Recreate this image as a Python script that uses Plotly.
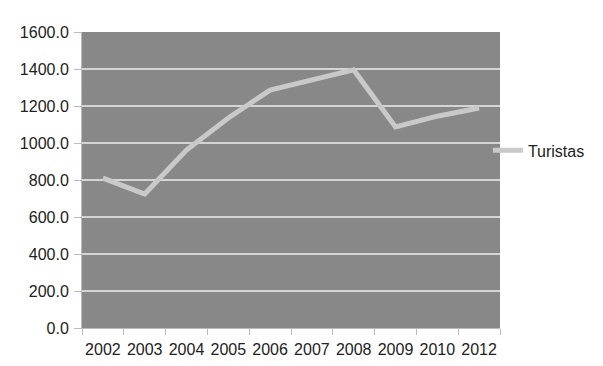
import plotly.graph_objects as go

years = ["2002", "2003", "2004", "2005", "2006", "2007", "2008", "2009", "2010", "2012"]
turistas = [810, 724, 962, 1135, 1286, 1340, 1395, 1087, 1145, 1189]
y_ticks = [0, 200, 400, 600, 800, 1000, 1200, 1400, 1600]

fig = go.Figure()
fig.add_trace(go.Scatter(
    x=years, y=turistas, mode="lines", name="Turistas",
    line=dict(color="#c9c9c9", width=5),
))

fig.update_layout(
    width=595, height=358,
    margin=dict(l=74, r=103, t=24, b=38, autoexpand=False),
    paper_bgcolor="#ffffff",
    plot_bgcolor="#888888",
    font=dict(family="Liberation Sans, Arial, sans-serif", size=16, color="#222222"),
    showlegend=True,
    legend=dict(x=0.971, xanchor="left", y=0.60, yanchor="middle",
                font=dict(size=16, color="#222222"), bgcolor="rgba(0,0,0,0)",
                itemwidth=30),
    xaxis=dict(type="category", showgrid=False, tickson="boundaries",
               tickangle=0, automargin=False, ticklabelstandoff=7,
               ticks="outside", ticklen=6, tickcolor="#bbbbbb",
               showline=True, linecolor="#bbbbbb", linewidth=1,
               range=[-0.5, 9.5]),
    yaxis=dict(range=[0, 1600], tickvals=y_ticks, tickformat=".1f",
               automargin=False, ticklabelstandoff=2,
               showgrid=True, gridcolor="#d4d4d4", gridwidth=2,
               ticks="outside", ticklen=7, tickcolor="#bbbbbb",
               showline=True, linecolor="#bbbbbb", linewidth=1,
               zeroline=False),
)

fig.write_html("out.html")
